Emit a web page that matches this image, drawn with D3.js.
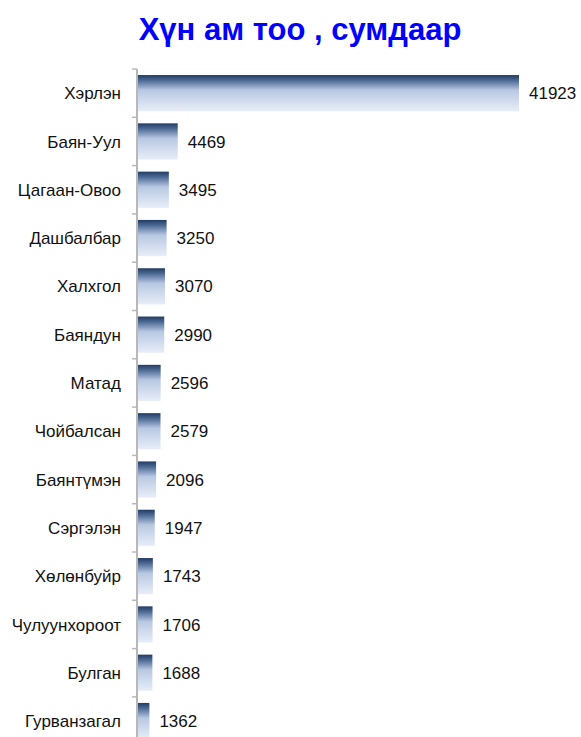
<!DOCTYPE html>
<html>
<head>
<meta charset="utf-8">
<script src="https://cdn.jsdelivr.net/npm/d3@7"></script>
<style>
  body { margin: 0; background: #fff; }
  svg { display: block; font-family: "Liberation Sans", Arial, sans-serif; }
</style>
</head>
<body>
<svg></svg>
<script>
let districts = ["Хэрлэн", "Баян-Уул", "Цагаан-Овоо", "Дашбалбар", "Халхгол", "Баяндун", "Матад",
  "Чойбалсан", "Баянтүмэн", "Сэргэлэн", "Хөлөнбуйр", "Чулуунхороот", "Булган", "Гурванзагал"];
let population = [41923, 4469, 3495, 3250, 3070, 2990, 2596, 2579, 2096, 1947, 1743, 1706, 1688, 1362];
let chartTitle = "Хүн ам тоо , сумдаар";

let drawChart = function() {
  const width = 581;
  const height = 737;
  const left = 137;
  const top = 69;
  const step = 48.3;

  let svg = d3.select("svg")
    .attr("width", width)
    .attr("height", height);

  // gradient for bars: dark navy at top fading to pale blue
  let grad = svg.append("defs")
    .append("linearGradient")
      .attr("id", "barGrad")
      .attr("x1", 0).attr("y1", 0)
      .attr("x2", 0).attr("y2", 1);
  grad.append("stop").attr("offset", "0%").attr("stop-color", "#213c63");
  grad.append("stop").attr("offset", "15%").attr("stop-color", "#4d6a94");
  grad.append("stop").attr("offset", "42%").attr("stop-color", "#b8c8e2");
  grad.append("stop").attr("offset", "100%").attr("stop-color", "#e8eef8");

  let xScale = d3.scaleLinear()
    .domain([0, 41923])
    .range([left, 519]);

  let yScale = d3.scaleBand()
    .domain(districts)
    .range([top, top + step * districts.length])
    .paddingInner(0.25)
    .paddingOuter(0.125);

  svg.append("text")
    .attr("x", 300)
    .attr("y", 40)
    .attr("text-anchor", "middle")
    .attr("fill", "#0000ff")
    .style("font-size", "31px")
    .style("font-weight", "bold")
    .text(chartTitle);

  svg.selectAll("rect.bar")
    .data(districts)
    .enter()
    .append("rect")
      .classed("bar", true)
      .attr("x", xScale(0) + 1)
      .attr("y", d => yScale(d))
      .attr("width", (d, i) => xScale(population[i]) - xScale(0) - 1)
      .attr("height", yScale.bandwidth())
      .attr("fill", "url(#barGrad)");

  // value labels
  svg.selectAll("text.val")
    .data(districts)
    .enter()
    .append("text")
      .classed("val", true)
      .attr("x", (d, i) => xScale(population[i]) + 10)
      .attr("y", d => yScale(d) + yScale.bandwidth() / 2)
      .attr("dy", "0.36em")
      .attr("fill", "#111")
      .style("font-size", "17px")
      .text((d, i) => population[i]);

  // category axis with ticks between bands
  let axis = svg.append("g").attr("class", "y-axis");
  axis.append("line")
    .attr("x1", left).attr("x2", left)
    .attr("y1", top).attr("y2", height)
    .attr("stroke", "#b8b8b8")
    .attr("stroke-width", 2);
  axis.selectAll("line.tick")
    .data(districts)
    .enter()
    .append("line")
      .classed("tick", true)
      .attr("x1", left - 5).attr("x2", left)
      .attr("y1", d => yScale(d) - yScale.step() * yScale.paddingInner() / 2)
      .attr("y2", d => yScale(d) - yScale.step() * yScale.paddingInner() / 2)
      .attr("stroke", "#b8b8b8")
      .attr("stroke-width", 1.5);
  axis.selectAll("text.cat")
    .data(districts)
    .enter()
    .append("text")
      .classed("cat", true)
      .attr("x", 121)
      .attr("y", d => yScale(d) + yScale.bandwidth() / 2)
      .attr("dy", "0.36em")
      .attr("text-anchor", "end")
      .attr("fill", "#111")
      .style("font-size", "17px")
      .text(d => d);
}

drawChart();
</script>
</body>
</html>
